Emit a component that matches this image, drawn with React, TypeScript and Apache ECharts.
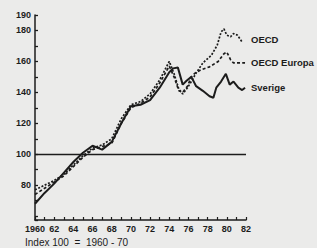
import React, { useEffect, useRef } from "react";
import * as echarts from "echarts";

const sverige: [number, number][] = [
  [1960, 68], [1961, 75], [1962, 81], [1963, 88], [1964, 95], [1965, 101],
  [1966, 105.5], [1967, 103], [1968, 108], [1969, 120], [1970, 131], [1971, 132],
  [1972, 135], [1973, 143], [1974, 153], [1974.4, 155.5], [1974.9, 156], [1975.4, 145],
  [1975.8, 147.5], [1976.3, 150], [1976.8, 144], [1977.5, 141], [1978.2, 137.5],
  [1978.6, 136.5], [1978.9, 143], [1979.4, 147], [1979.9, 152], [1980.3, 145],
  [1980.7, 147], [1981.2, 143], [1981.6, 141.5], [1981.9, 143],
];

const oecd: [number, number][] = [
  [1960, 77], [1961, 80], [1962, 83], [1963, 87], [1964, 93], [1965, 99],
  [1966, 104], [1967, 106], [1968, 110], [1969, 123], [1970, 132], [1971, 134],
  [1972, 139], [1973, 148], [1974, 160], [1974.5, 152], [1975, 142], [1975.4, 139],
  [1975.9, 143], [1976.3, 147], [1976.8, 152.5], [1977.5, 159], [1978.4, 164],
  [1979, 170.5], [1979.4, 179], [1979.7, 181], [1980, 177], [1980.4, 176],
  [1980.7, 178], [1981.1, 177], [1981.6, 172.5],
];

const oecdEuropa: [number, number][] = [
  [1960, 74], [1961, 78], [1962, 82], [1963, 86], [1964, 92], [1965, 98],
  [1966, 103], [1967, 105], [1968, 107], [1969, 120], [1970, 130], [1971, 133],
  [1972, 137], [1973, 146], [1974, 157], [1974.5, 150], [1975, 141], [1975.4, 140],
  [1975.9, 144], [1976.3, 150], [1976.7, 152.5], [1977.3, 154.5], [1978.2, 156.5],
  [1979.1, 160], [1979.7, 165], [1980, 166], [1980.4, 161], [1980.7, 159], [1981.9, 159],
];

const yLabels = [80, 100, 120, 140, 160, 180, 190];
const seriesNames = ["OECD", "OECD Europa", "Sverige"];
const footnote = "Index 100  =  1960 - 70";

const ink = "#1c1c1c";
const font = "'Liberation Sans', Arial, sans-serif";

export default function App() {
  const ref = useRef<HTMLDivElement>(null);
  useEffect(() => {
    const chart = echarts.init(ref.current!, null, { renderer: "svg" });
    chart.setOption({
      animation: false,
      backgroundColor: "#ebebea",
      grid: { left: 35, right: 71, top: 15, bottom: 28 },
      xAxis: {
        type: "value",
        min: 1960,
        max: 1982,
        interval: 1,
        axisLine: { lineStyle: { color: ink, width: 1.5 } },
        axisTick: { inside: true, length: 3, lineStyle: { color: ink, width: 1.2 } },
        splitLine: { show: false },
        axisLabel: {
          color: ink,
          fontSize: 9,
          fontWeight: "bold",
          fontFamily: font,
          margin: 4,
          formatter: (v: number) => {
            const y = Math.round(v);
            if (Math.abs(v - y) > 0.01 || y % 2 !== 0) return "";
            return y === 1960 ? "1960" : String(y % 100).padStart(2, "0");
          },
        },
      },
      yAxis: {
        type: "value",
        min: 57.5,
        max: 190,
        splitNumber: 13,
        axisLine: { show: true, lineStyle: { color: ink, width: 1.5 } },
        axisTick: { show: true, inside: true, length: 3, lineStyle: { color: ink, width: 1.3 } },
        splitLine: { show: false },
        axisLabel: {
          color: ink,
          fontSize: 9,
          fontWeight: "bold",
          fontFamily: font,
          margin: 4,
          formatter: (v: number) => (yLabels.includes(v) ? String(v) : ""),
        },
      },
      series: [
        {
          name: seriesNames[0],
          type: "line",
          data: oecd,
          symbol: "none",
          lineStyle: { color: ink, width: 1.7, type: [2, 1.6] },
        },
        {
          name: seriesNames[1],
          type: "line",
          data: oecdEuropa,
          symbol: "none",
          lineStyle: { color: ink, width: 1.7, type: [3, 2.2] },
        },
        {
          name: seriesNames[2],
          type: "line",
          data: sverige,
          symbol: "none",
          lineStyle: { color: ink, width: 2 },
          markLine: {
            silent: true,
            symbol: "none",
            label: { show: false },
            lineStyle: { color: ink, width: 1.4, type: "solid" },
            data: [{ yAxis: 100 }],
          },
        },
      ],
      graphic: [
        { type: "text", left: 251, top: 34, style: { text: seriesNames[0], fill: ink, fontSize: 9.5, fontWeight: "bold", fontFamily: font } },
        { type: "text", left: 251, top: 57, style: { text: seriesNames[1], fill: ink, fontSize: 9.5, fontWeight: "bold", fontFamily: font } },
        { type: "text", left: 251, top: 82, style: { text: seriesNames[2], fill: ink, fontSize: 9.5, fontWeight: "bold", fontFamily: font } },
        { type: "text", left: 25, top: 237, style: { text: footnote, fill: ink, fontSize: 10, fontFamily: font } },
      ],
    });
    return () => chart.dispose();
  }, []);
  return (
    <div
      ref={ref}
      style={{ position: "fixed", left: 0, top: 0, width: 317, height: 248 }}
    />
  );
}
